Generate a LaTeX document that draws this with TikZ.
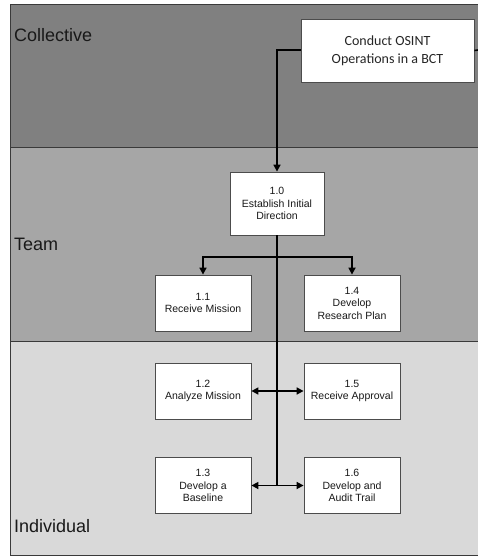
\documentclass[tikz,border=0pt]{standalone}
\usepackage{fontspec}
\setmainfont{Liberation Sans}
\newfontfamily\boxfont{Carlito}
\usetikzlibrary{arrows.meta,shadows}
\definecolor{collcol}{HTML}{808080}
\definecolor{teamcol}{HTML}{A6A6A6}
\definecolor{indcol}{HTML}{D9D9D9}
\definecolor{framecol}{HTML}{3A3A3A}
\tikzset{
  band/.style={draw=framecol, line width=1pt},
  bandlabel/.style={anchor=west, inner sep=0pt, font=\fontsize{18}{20}\selectfont, text=black!90},
  taskbox/.style={draw=black!70, fill=white, line width=0.8pt, minimum width=96pt, minimum height=56pt, align=center, inner sep=1pt,
    font=\fontsize{10.5}{12.5}\selectfont, text=black!90, drop shadow={shadow xshift=0.8pt, shadow yshift=-0.8pt, opacity=0.4}},
  topbox/.style={draw=black!70, fill=white, line width=0.8pt, minimum width=173pt, minimum height=63pt, align=center,
    font=\boxfont\fontsize{14}{18}\selectfont, text=black!85, drop shadow={shadow xshift=0.8pt, shadow yshift=-0.8pt, opacity=0.4}},
  conn/.style={draw=black, line width=1.6pt},
  tip/.style={-{Triangle[length=7pt,width=7pt]}},
  tips/.style={{Triangle[length=7pt,width=7pt]}-{Triangle[length=7pt,width=7pt]}}
}
\begin{document}
\begin{tikzpicture}[x=1pt,y=-1pt]
\useasboundingbox (0,0) rectangle (478,556);
\fill[white] (0,0) rectangle (478,556);
% bands
\fill[collcol] (10,5) rectangle (480,148);
\fill[teamcol] (10,148) rectangle (480,341);
\fill[indcol] (10,341) rectangle (480,555);
\draw[band] (480,5) -- (10,5) -- (10,555) -- (480,555);
\draw[band] (10,148) -- (480,148);
\draw[band] (10,341) -- (480,341);
\node[bandlabel] (lcoll) at (14,35) {Collective};
\node[bandlabel] (lteam) at (14,244) {Team};
\node[bandlabel] (lind) at (14,526) {Individual};
% boxes
\node[topbox] (top) at (387.5,50.5) {Conduct OSINT\\Operations in a BCT};
\node[taskbox, minimum height=63pt, minimum width=94pt] (t10) at (277,203.5) {1.0\\Establish Initial\\Direction};
\node[taskbox] (t11) at (203,303) {1.1\\Receive Mission};
\node[taskbox] (t14) at (352,303) {1.4\\Develop\\Research Plan};
\node[taskbox] (t12) at (203,391) {1.2\\Analyze Mission};
\node[taskbox] (t15) at (352,391) {1.5\\Receive Approval};
\node[taskbox] (t13) at (203,485.5) {1.3\\Develop a\\Baseline};
\node[taskbox] (t16) at (352,485.5) {1.6\\Develop and\\Audit Trail};
% connectors
\coordinate (edge) at (478,50);
\coordinate (jtop) at (277,50);
\coordinate (jb) at (277,257);
\coordinate (j3) at (277,486);
\draw[conn] (top.east) -- (edge);
\draw[conn, tip] (top.west |- jtop) -- (jtop) -- (t10.north);
\draw[conn] (t10.south) -- (j3);
\draw[conn, tip] (jb) -| (t11.north);
\draw[conn, tip] (jb) -| (t14.north);
\draw[conn, tips] (t12.east) -- (t15.west);
\draw[conn, tips] (t13.east) -- (t16.west);
\end{tikzpicture}
\end{document}
